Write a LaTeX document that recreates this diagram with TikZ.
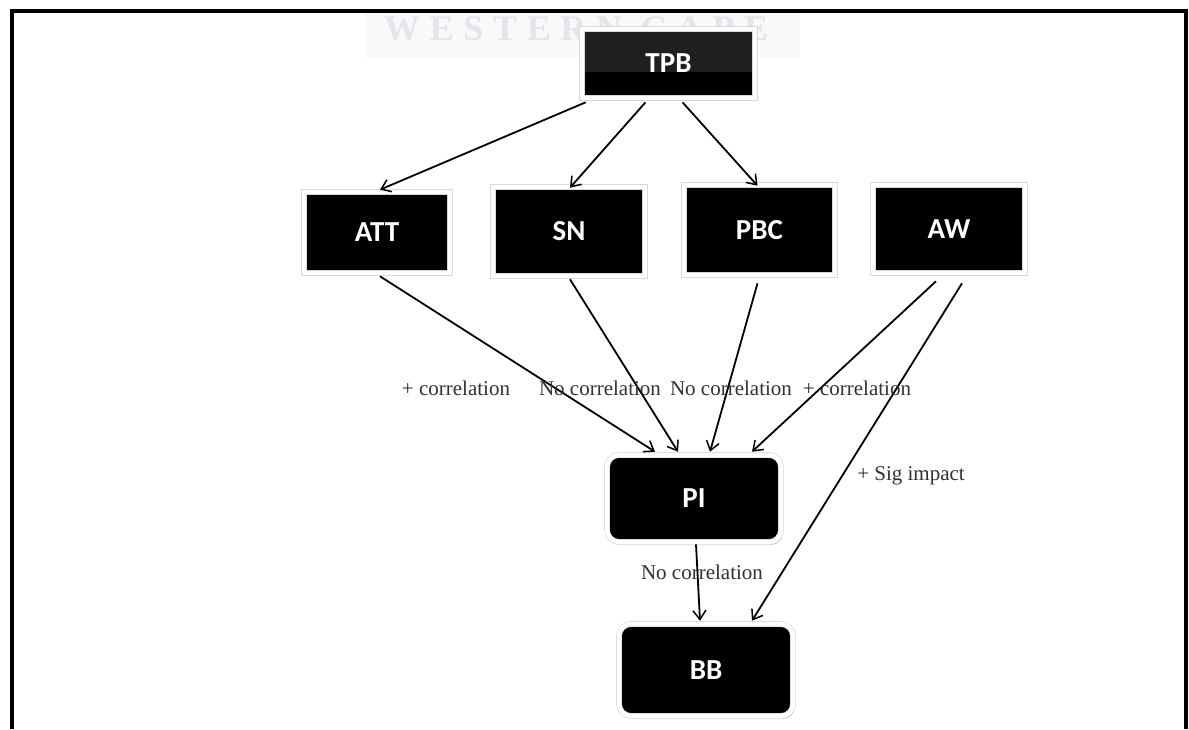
\documentclass[tikz,border=0pt]{standalone}
\usepackage{fontspec}
\setmainfont{Liberation Serif}
\newfontfamily\boxfont{Carlito}
\usetikzlibrary{arrows.meta,shadows}
\definecolor{wmcol}{RGB}{228,228,236}
\definecolor{lblcol}{RGB}{50,50,45}
\begin{document}
\begin{tikzpicture}[x=1pt,y=-1pt,
  box/.style={fill=black, draw=black!15, line width=0.6pt, double=white, double distance=4.5pt,
    text=white, font=\boxfont\bfseries\fontsize{29}{34}\selectfont, inner sep=0pt,
    drop shadow={shadow xshift=2pt, shadow yshift=-3pt, fill=black!35, opacity=0.5}},
  rbox/.style={box, rounded corners=12pt},
  conn/.style={draw=black, line width=1.8pt, -{Straight Barb[length=9pt,width=13pt,line width=1.5pt]}},
  lbl/.style={text=lblcol, font=\fontsize{21}{24}\selectfont, inner sep=0pt}
]
\useasboundingbox[fill=white] (0,0) rectangle (1189,729);
% faint band and watermark
\fill[black!2.5] (365,12) rectangle (800,58);
\node[text=wmcol, font=\bfseries\fontsize{36}{40}\selectfont\addfontfeature{LetterSpace=27}, inner sep=0pt] (wm) at (576,29) {WESTERN CAPE};
% frame
\draw[line width=3.5pt] (12,729) -- (12,11) -- (1186,11) -- (1186,729);
% nodes
\node[box, fill=black!88, minimum width=173pt, minimum height=69pt,
  path picture={\fill[black] ([yshift=-8pt]path picture bounding box.west) rectangle (path picture bounding box.south east);}]
  (tpb) at (668.5,63.5) {TPB};
\node[box, minimum width=146pt, minimum height=81pt] (att) at (377,232.5) {ATT};
\node[box, minimum width=152pt, minimum height=89pt] (sn) at (569,231.5) {SN};
\node[box, minimum width=151pt, minimum height=90pt] (pbc) at (759.5,230) {PBC};
\node[box, minimum width=152pt, minimum height=88pt] (aw) at (949,229) {AW};
\node[rbox, minimum width=174pt, minimum height=87pt] (pi) at (694,498.5) {PI};
\node[rbox, minimum width=174pt, minimum height=92pt] (bb) at (706,670) {BB};
% connectors
\draw[conn] ([xshift=4pt,yshift=-4pt]tpb.south west) -- ([xshift=3pt,yshift=2pt]att.north);
\draw[conn] ([xshift=-23pt,yshift=-4pt]tpb.south) -- ([xshift=1pt,yshift=-1pt]sn.north);
\draw[conn] ([xshift=14pt,yshift=-4pt]tpb.south) -- ([xshift=-2pt,yshift=-1pt]pbc.north);
\draw[conn] ([xshift=3pt,yshift=-3pt]att.south) -- ([xshift=-39pt,yshift=3pt]pi.north);
\draw[conn] ([xshift=1pt,yshift=-3pt]sn.south) -- ([xshift=-16pt,yshift=3pt]pi.north);
\draw[conn] ([xshift=-2pt,yshift=-8pt]pbc.south) -- ([xshift=16pt,yshift=3pt]pi.north);
\draw[conn] ([xshift=-13pt,yshift=-8pt]aw.south) -- ([xshift=58pt,yshift=3pt]pi.north);
\draw[conn] ([xshift=13pt,yshift=-10pt]aw.south) -- ([xshift=46pt,yshift=3pt]bb.north);
\draw[conn] ([xshift=2pt,yshift=-2pt]pi.south) -- ([xshift=-6pt,yshift=3pt]bb.north);
% labels
\node[lbl] (l1) at (456,388) {+ correlation};
\node[lbl] (l2) at (600,388) {No correlation};
\node[lbl] (l3) at (731,388) {No correlation};
\node[lbl] (l4) at (857,388) {+ correlation};
\node[lbl] (l5) at (911,476) {+ Sig impact};
\node[lbl] (l6) at (702,572) {No correlation};
\end{tikzpicture}
\end{document}
